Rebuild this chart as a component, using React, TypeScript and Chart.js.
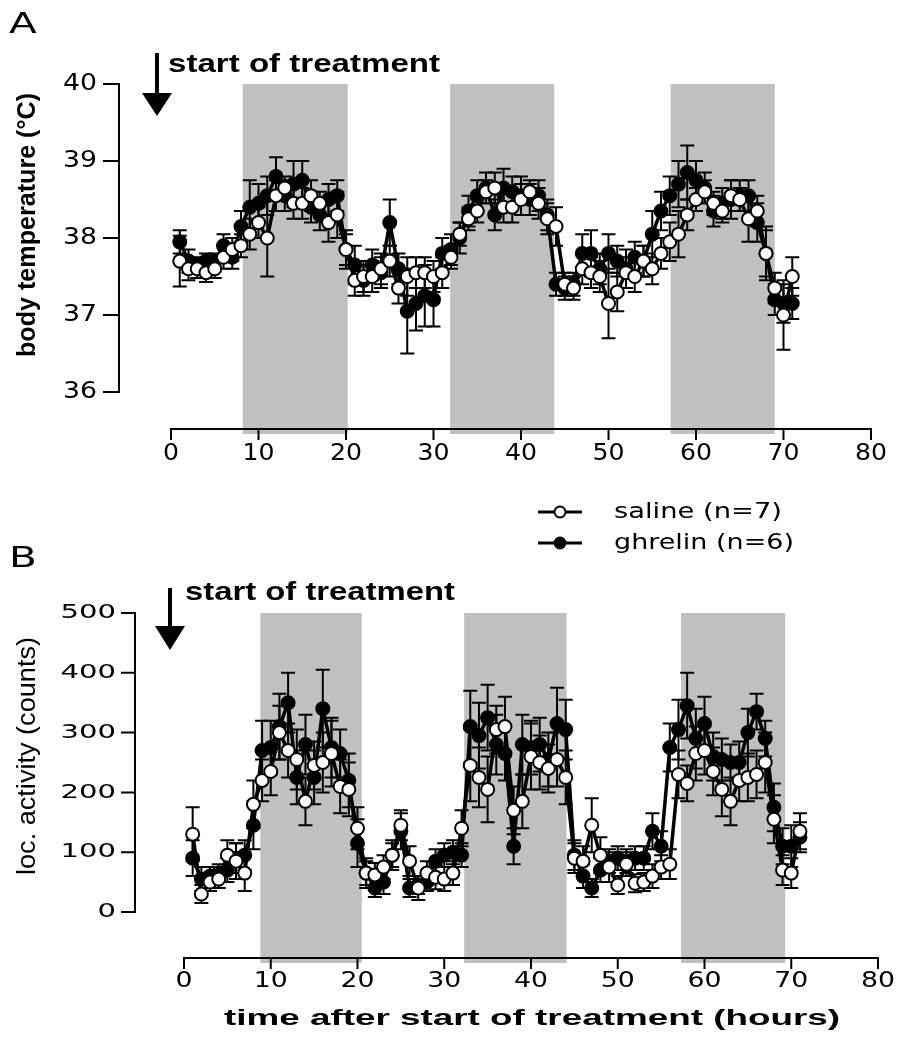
import React, { useEffect, useRef } from 'react';
import { Chart, registerables } from 'chart.js';

Chart.register(...registerables);

// ---------------- data ----------------
const hours = [
  1, 2, 3, 4, 5, 6, 7, 8, 9, 10, 11, 12, 13, 14, 15, 16, 17, 18, 19, 20,
  21, 22, 23, 24, 25, 26, 27, 28, 29, 30, 31, 32, 33, 34, 35, 36, 37, 38, 39, 40,
  41, 42, 43, 44, 45, 46, 47, 48, 49, 50, 51, 52, 53, 54, 55, 56, 57, 58, 59, 60,
  61, 62, 63, 64, 65, 66, 67, 68, 69, 70, 71,
];

const timeTicks = [0, 10, 20, 30, 40, 50, 60, 70, 80];
const tempTicks = [36, 37, 38, 39, 40];
const activityTicks = [0, 100, 200, 300, 400, 500];

const darkPhasesA = [[8.2, 20.2], [31.9, 43.8], [57.1, 69.0]];
const darkPhasesB = [[8.8, 20.5], [32.3, 44.1], [57.3, 69.3]];

const seriesLabels = ['saline (n=7)', 'ghrelin (n=6)'];

const salineTemp = [
  37.70, 37.60, 37.60, 37.55, 37.60, 37.75, 37.85, 37.90, 38.05, 38.20,
  38.00, 38.55, 38.65, 38.45, 38.45, 38.55, 38.45, 38.20, 38.30, 37.85,
  37.45, 37.50, 37.50, 37.60, 37.70, 37.35, 37.50, 37.55, 37.55, 37.50,
  37.55, 37.75, 38.05, 38.25, 38.35, 38.60, 38.65, 38.40, 38.40, 38.50,
  38.60, 38.45, 38.25, 38.15, 37.40, 37.35, 37.60, 37.55, 37.50, 37.15,
  37.30, 37.55, 37.50, 37.70, 37.60, 37.80, 37.95, 38.05, 38.30, 38.50,
  38.60, 38.45, 38.35, 38.55, 38.50, 38.25, 38.35, 37.80, 37.35, 37.00,
  37.50,
];
const salineTempSem = [
  0.33, 0.15, 0.12, 0.12, 0.12, 0.15, 0.15, 0.15, 0.20, 0.20,
  0.50, 0.20, 0.15, 0.20, 0.20, 0.20, 0.15, 0.25, 0.30, 0.20,
  0.20, 0.20, 0.20, 0.20, 0.20, 0.20, 0.25, 0.20, 0.20, 0.20,
  0.20, 0.15, 0.15, 0.15, 0.15, 0.15, 0.20, 0.20, 0.20, 0.20,
  0.15, 0.20, 0.20, 0.25, 0.15, 0.15, 0.20, 0.20, 0.20, 0.45,
  0.25, 0.20, 0.20, 0.20, 0.20, 0.20, 0.25, 0.30, 0.20, 0.15,
  0.15, 0.15, 0.15, 0.20, 0.15, 0.30, 0.20, 0.30, 0.20, 0.45,
  0.25,
];
const ghrelinTemp = [
  37.95, 37.70, 37.65, 37.70, 37.70, 37.90, 37.75, 38.15, 38.40, 38.45,
  38.55, 38.80, 38.55, 38.70, 38.75, 38.40, 38.30, 38.50, 38.55, 37.85,
  37.65, 37.45, 37.65, 37.55, 38.20, 37.60, 37.05, 37.15, 37.25, 37.20,
  37.80, 37.85, 38.00, 38.35, 38.55, 38.65, 38.30, 38.65, 38.60, 38.55,
  38.50, 38.55, 38.30, 37.40, 37.35, 37.40, 37.80, 37.80, 37.60, 37.80,
  37.70, 37.60, 37.75, 37.70, 38.05, 38.35, 38.55, 38.70, 38.85, 38.75,
  38.65, 38.35, 38.45, 38.50, 38.55, 38.55, 38.20, 37.80, 37.20, 37.15,
  37.15,
];
const ghrelinTempSem = [
  0.15, 0.15, 0.10, 0.10, 0.10, 0.15, 0.15, 0.20, 0.35, 0.25,
  0.25, 0.25, 0.20, 0.30, 0.25, 0.20, 0.20, 0.20, 0.20, 0.25,
  0.25, 0.20, 0.20, 0.20, 0.30, 0.20, 0.55, 0.35, 0.40, 0.35,
  0.20, 0.20, 0.20, 0.20, 0.20, 0.20, 0.20, 0.25, 0.20, 0.25,
  0.20, 0.20, 0.20, 0.15, 0.15, 0.15, 0.25, 0.30, 0.20, 0.25,
  0.20, 0.25, 0.20, 0.20, 0.30, 0.25, 0.25, 0.30, 0.35, 0.25,
  0.20, 0.20, 0.20, 0.25, 0.20, 0.20, 0.25, 0.35, 0.20, 0.25,
  0.20,
];

const salineActivity = [
  130, 30, 50, 55, 95, 85, 65, 180, 220, 235,
  300, 270, 255, 185, 245, 250, 265, 210, 205, 140,
  65, 62, 75, 95, 145, 85, 40, 65, 58, 55,
  65, 140, 245, 225, 205, 305, 310, 170, 185, 260,
  250, 240, 255, 225, 90, 85, 145, 95, 75, 45,
  80, 48, 50, 60, 75, 80, 230, 215, 265, 270,
  235, 205, 185, 220, 225, 230, 250, 155, 70, 65,
  135,
];
const salineActivitySem = [
  45, 15, 15, 15, 25, 30, 30, 40, 35, 40,
  45, 45, 50, 40, 40, 50, 55, 45, 45, 35,
  25, 20, 20, 25, 25, 25, 20, 20, 20, 20,
  20, 30, 60, 50, 55, 40, 50, 40, 45, 55,
  45, 40, 45, 45, 25, 25, 45, 30, 25, 15,
  20, 15, 15, 20, 20, 25, 40, 30, 45, 40,
  40, 45, 40, 35, 40, 40, 50, 40, 25, 25,
  30,
];
const ghrelinActivity = [
  90, 55, 60, 65, 70, 90, 95, 145, 270, 275,
  310, 350, 225, 280, 225, 340, 275, 265, 220, 115,
  65, 40, 50, 95, 135, 40, 45, 50, 85, 95,
  100, 95, 310, 295, 325, 280, 265, 110, 280, 275,
  280, 255, 315, 305, 95, 60, 40, 70, 85, 90,
  85, 90, 90, 135, 110, 275, 305, 345, 290, 315,
  260, 255, 250, 250, 300, 335, 290, 175, 110, 110,
  125,
];
const ghrelinActivitySem = [
  30, 20, 15, 15, 20, 25, 25, 40, 50, 45,
  55, 50, 45, 50, 45, 65, 50, 40, 45, 40,
  20, 15, 20, 20, 30, 15, 15, 15, 20, 20,
  20, 20, 60, 55, 55, 50, 45, 30, 50, 45,
  45, 45, 60, 50, 25, 20, 15, 20, 20, 20,
  20, 20, 20, 30, 25, 40, 50, 55, 50, 45,
  40, 35, 30, 35, 40, 30, 30, 40, 30, 35,
  25,
];

// ---------------- drawing helpers ----------------
const W = 897;

type TextOpts = {
  align?: CanvasTextAlign;
  baseline?: CanvasTextBaseline;
  width?: number;
  sx?: number;
  rot?: number;
};

function drawLabel(ctx: CanvasRenderingContext2D, s: string, x: number, y: number, font: string, o: TextOpts = {}) {
  ctx.save();
  ctx.font = font;
  ctx.fillStyle = '#000';
  ctx.textAlign = o.align ?? 'left';
  ctx.textBaseline = o.baseline ?? 'middle';
  const w = ctx.measureText(s).width;
  const sx = o.width ? o.width / w : o.sx ?? 1;
  ctx.translate(x, y);
  if (o.rot) ctx.rotate(o.rot);
  ctx.scale(sx, 1);
  ctx.fillText(s, 0, 0);
  ctx.restore();
}

function digitStretch(ctx: CanvasRenderingContext2D, font: string, digitW: number) {
  ctx.save();
  ctx.font = font;
  const w = ctx.measureText('0').width;
  ctx.restore();
  return digitW / w;
}

type PanelSpec = {
  bands: number[][];
  yTicks: number[];
  yAxisX: number;
  yTickLen: number;
  yLabelRight: number;
  yTickFont: string;
  yDigitW: number;
  xTickFont: string;
  xDigitW: number;
  xLabelY: number;
  letter: string;
  letterPos: [number, number];
  yTitle: string;
  yTitleFont: string;
  yTitlePos: [number, number];
  yTitleLen: number;
  arrow: { x: number; y0: number; y1: number; half: number; tip: number };
  start: { x: number; y: number; w: number };
  xTitle?: { x: number; y: number; w: number };
  legend?: { x0: number; x1: number; mx: number; tx: number; ys: number[]; w: number[] };
};

function makePanelPlugin(spec: PanelSpec) {
  return {
    id: 'panel' + spec.letter,
    beforeDatasetsDraw(chart: any) {
      const { ctx, chartArea } = chart;
      const xs = chart.scales.x;
      const ys = chart.scales.y;
      ctx.save();
      // dark phases
      ctx.fillStyle = '#c0c0c0';
      for (const [a, b] of spec.bands) {
        const x1 = xs.getPixelForValue(a);
        const x2 = xs.getPixelForValue(b);
        ctx.fillRect(x1, chartArea.top, x2 - x1, chartArea.bottom + 5 - chartArea.top);
      }
      // axes
      ctx.strokeStyle = '#000';
      ctx.lineWidth = 2;
      ctx.lineCap = 'butt';
      const yTop = ys.getPixelForValue(spec.yTicks[spec.yTicks.length - 1]);
      const yBot = ys.getPixelForValue(spec.yTicks[0]);
      ctx.beginPath();
      ctx.moveTo(spec.yAxisX, yTop - 1);
      ctx.lineTo(spec.yAxisX, yBot + 1);
      for (const t of spec.yTicks) {
        const py = ys.getPixelForValue(t);
        ctx.moveTo(spec.yAxisX - spec.yTickLen, py);
        ctx.lineTo(spec.yAxisX, py);
      }
      const bx = chartArea.bottom;
      ctx.moveTo(xs.getPixelForValue(timeTicks[0]) - 1, bx);
      ctx.lineTo(xs.getPixelForValue(timeTicks[timeTicks.length - 1]) + 1, bx);
      for (const t of timeTicks) {
        const px = xs.getPixelForValue(t);
        ctx.moveTo(px, bx);
        ctx.lineTo(px, bx + 11);
      }
      ctx.stroke();
      // error bars (ghrelin first, saline on top)
      const dsList = chart.data.datasets.map((d: any, i: number) => ({ d, i })).reverse();
      ctx.lineWidth = 2;
      for (const { d } of dsList) {
        d.data.forEach((p: any, k: number) => {
          const e = d.sem[k];
          const px = xs.getPixelForValue(p.x);
          const p1 = ys.getPixelForValue(p.y + e);
          const p2 = ys.getPixelForValue(p.y - e);
          ctx.beginPath();
          ctx.moveTo(px, p1);
          ctx.lineTo(px, p2);
          ctx.moveTo(px - 7, p1);
          ctx.lineTo(px + 7, p1);
          ctx.moveTo(px - 7, p2);
          ctx.lineTo(px + 7, p2);
          ctx.stroke();
        });
      }
      ctx.restore();
    },
    afterDraw(chart: any) {
      const { ctx } = chart;
      const xs = chart.scales.x;
      const ys = chart.scales.y;
      // tick labels
      const ysx = digitStretch(ctx, spec.yTickFont, spec.yDigitW);
      for (const t of spec.yTicks) {
        drawLabel(ctx, String(t), spec.yLabelRight, ys.getPixelForValue(t), spec.yTickFont, { align: 'right', sx: ysx });
      }
      const xsx = digitStretch(ctx, spec.xTickFont, spec.xDigitW);
      for (const t of timeTicks) {
        drawLabel(ctx, String(t), xs.getPixelForValue(t), spec.xLabelY, spec.xTickFont, { align: 'center', sx: xsx });
      }
      // y title
      drawLabel(ctx, spec.yTitle, spec.yTitlePos[0], spec.yTitlePos[1], spec.yTitleFont, {
        align: 'center', rot: -Math.PI / 2, width: spec.yTitleLen,
      });
      // panel letter
      drawLabel(ctx, spec.letter, spec.letterPos[0], spec.letterPos[1], "28px 'DejaVu Sans'", { sx: 1.45 });
      // arrow
      const a = spec.arrow;
      ctx.save();
      ctx.strokeStyle = '#000';
      ctx.fillStyle = '#000';
      ctx.lineWidth = 4;
      ctx.beginPath();
      ctx.moveTo(a.x, a.y0);
      ctx.lineTo(a.x, a.y1 + 2);
      ctx.stroke();
      ctx.beginPath();
      ctx.moveTo(a.x - a.half, a.y1);
      ctx.lineTo(a.x + a.half, a.y1);
      ctx.lineTo(a.x, a.tip);
      ctx.closePath();
      ctx.fill();
      ctx.restore();
      drawLabel(ctx, 'start of treatment', spec.start.x, spec.start.y, "bold 26px 'Liberation Sans'", {
        baseline: 'alphabetic', width: spec.start.w,
      });
      if (spec.xTitle) {
        drawLabel(ctx, 'time after start of treatment (hours)', spec.xTitle.x, spec.xTitle.y, "bold 22px 'Liberation Sans'", {
          align: 'center', width: spec.xTitle.w,
        });
      }
      if (spec.legend) {
        const L = spec.legend;
        seriesLabels.forEach((lab, i) => {
          const y = L.ys[i];
          ctx.save();
          ctx.strokeStyle = '#000';
          ctx.lineWidth = 3;
          ctx.beginPath();
          ctx.moveTo(L.x0, y);
          ctx.lineTo(L.x1, y);
          ctx.stroke();
          ctx.beginPath();
          ctx.arc(L.mx, y, 5.5, 0, Math.PI * 2);
          ctx.fillStyle = i === 0 ? '#fff' : '#000';
          ctx.fill();
          ctx.lineWidth = 2;
          ctx.stroke();
          ctx.restore();
          drawLabel(ctx, lab, L.tx, y, "22px 'DejaVu Sans'", { width: L.w[i] });
        });
      }
    },
  };
}

function dataset(label: string, values: number[], sem: number[], filled: boolean) {
  return {
    label,
    data: hours.map((h, i) => ({ x: h, y: values[i] })),
    sem,
    borderColor: '#000',
    borderWidth: 3.5,
    pointRadius: 6.5,
    pointStyle: 'circle',
    pointBackgroundColor: filled ? '#000' : '#fff',
    pointBorderColor: '#000',
    pointBorderWidth: 2,
    tension: 0,
    fill: false,
  };
}

function baseOptions(padding: any, yMin: number, yMax: number) {
  return {
    responsive: false,
    animation: false,
    devicePixelRatio: 1,
    events: [],
    layout: { padding },
    scales: {
      x: { type: 'linear', min: 0, max: 80, display: false },
      y: { type: 'linear', min: yMin, max: yMax, display: false },
    },
    plugins: { legend: { display: false }, tooltip: { enabled: false }, title: { display: false } },
  };
}

// Panel A canvas: page y 0..480
const H_A = 480;
function configA(): any {
  const spec: PanelSpec = {
    bands: darkPhasesA,
    yTicks: tempTicks,
    yAxisX: 119,
    yTickLen: 16,
    yLabelRight: 97,
    yTickFont: "23px 'DejaVu Sans'",
    yDigitW: 17,
    xTickFont: "23px 'DejaVu Sans'",
    xDigitW: 16,
    xLabelY: 454,
    letter: 'A',
    letterPos: [9, 26],
    yTitle: 'body temperature (°C)',
    yTitleFont: "bold 25px 'Liberation Sans'",
    yTitlePos: [28, 225],
    yTitleLen: 264,
    arrow: { x: 157, y0: 53, y1: 93, half: 15, tip: 116 },
    start: { x: 168, y: 72, w: 272 },
  };
  return {
    type: 'line',
    data: {
      datasets: [
        dataset(seriesLabels[0], salineTemp, salineTempSem, false),
        dataset(seriesLabels[1], ghrelinTemp, ghrelinTempSem, true),
      ],
    },
    options: baseOptions({ left: 171, right: W - 871, top: 84, bottom: H_A - 429 }, 35.52, 40),
    plugins: [makePanelPlugin(spec)],
  };
}

// Panel B canvas: page y 480..1050
const TOP_B = 480;
const H_B = 570;
function configB(): any {
  const spec: PanelSpec = {
    bands: darkPhasesB,
    yTicks: activityTicks,
    yAxisX: 135,
    yTickLen: 14,
    yLabelRight: 116,
    yTickFont: "20px 'DejaVu Sans'",
    yDigitW: 18.5,
    xTickFont: "22px 'DejaVu Sans'",
    xDigitW: 17,
    xLabelY: 501,
    letter: 'B',
    letterPos: [9, 80],
    yTitle: 'loc. activity (counts)',
    yTitleFont: "26px 'Liberation Sans'",
    yTitlePos: [28, 276],
    yTitleLen: 238,
    arrow: { x: 170, y0: 108, y1: 146, half: 15, tip: 170 },
    start: { x: 185, y: 120, w: 270 },
    xTitle: { x: 532, y: 539, w: 616 },
    legend: { x0: 538, x1: 582, mx: 560, tx: 614, ys: [32, 63], w: [168, 180] },
  };
  return {
    type: 'line',
    data: {
      datasets: [
        dataset(seriesLabels[0], salineActivity, salineActivitySem, false),
        dataset(seriesLabels[1], ghrelinActivity, ghrelinActivitySem, true),
      ],
    },
    options: baseOptions({ left: 184, right: W - 878, top: 133, bottom: H_B - 478 }, -77, 500),
    plugins: [makePanelPlugin(spec)],
  };
}

function PanelCanvas({ top, height, make }: { top: number; height: number; make: () => any }) {
  const ref = useRef<HTMLCanvasElement>(null);
  useEffect(() => {
    const chart = new Chart(ref.current as HTMLCanvasElement, make());
    return () => chart.destroy();
  }, []);
  return (
    <canvas
      ref={ref}
      width={W}
      height={height}
      style={{ position: 'absolute', left: 0, top, width: W, height, display: 'block' }}
    />
  );
}

export default function App() {
  return (
    <div style={{ position: 'absolute', left: 0, top: 0, width: W, height: 1050, background: '#fff', overflow: 'hidden' }}>
      <PanelCanvas top={0} height={H_A} make={configA} />
      <PanelCanvas top={TOP_B} height={H_B} make={configB} />
    </div>
  );
}
